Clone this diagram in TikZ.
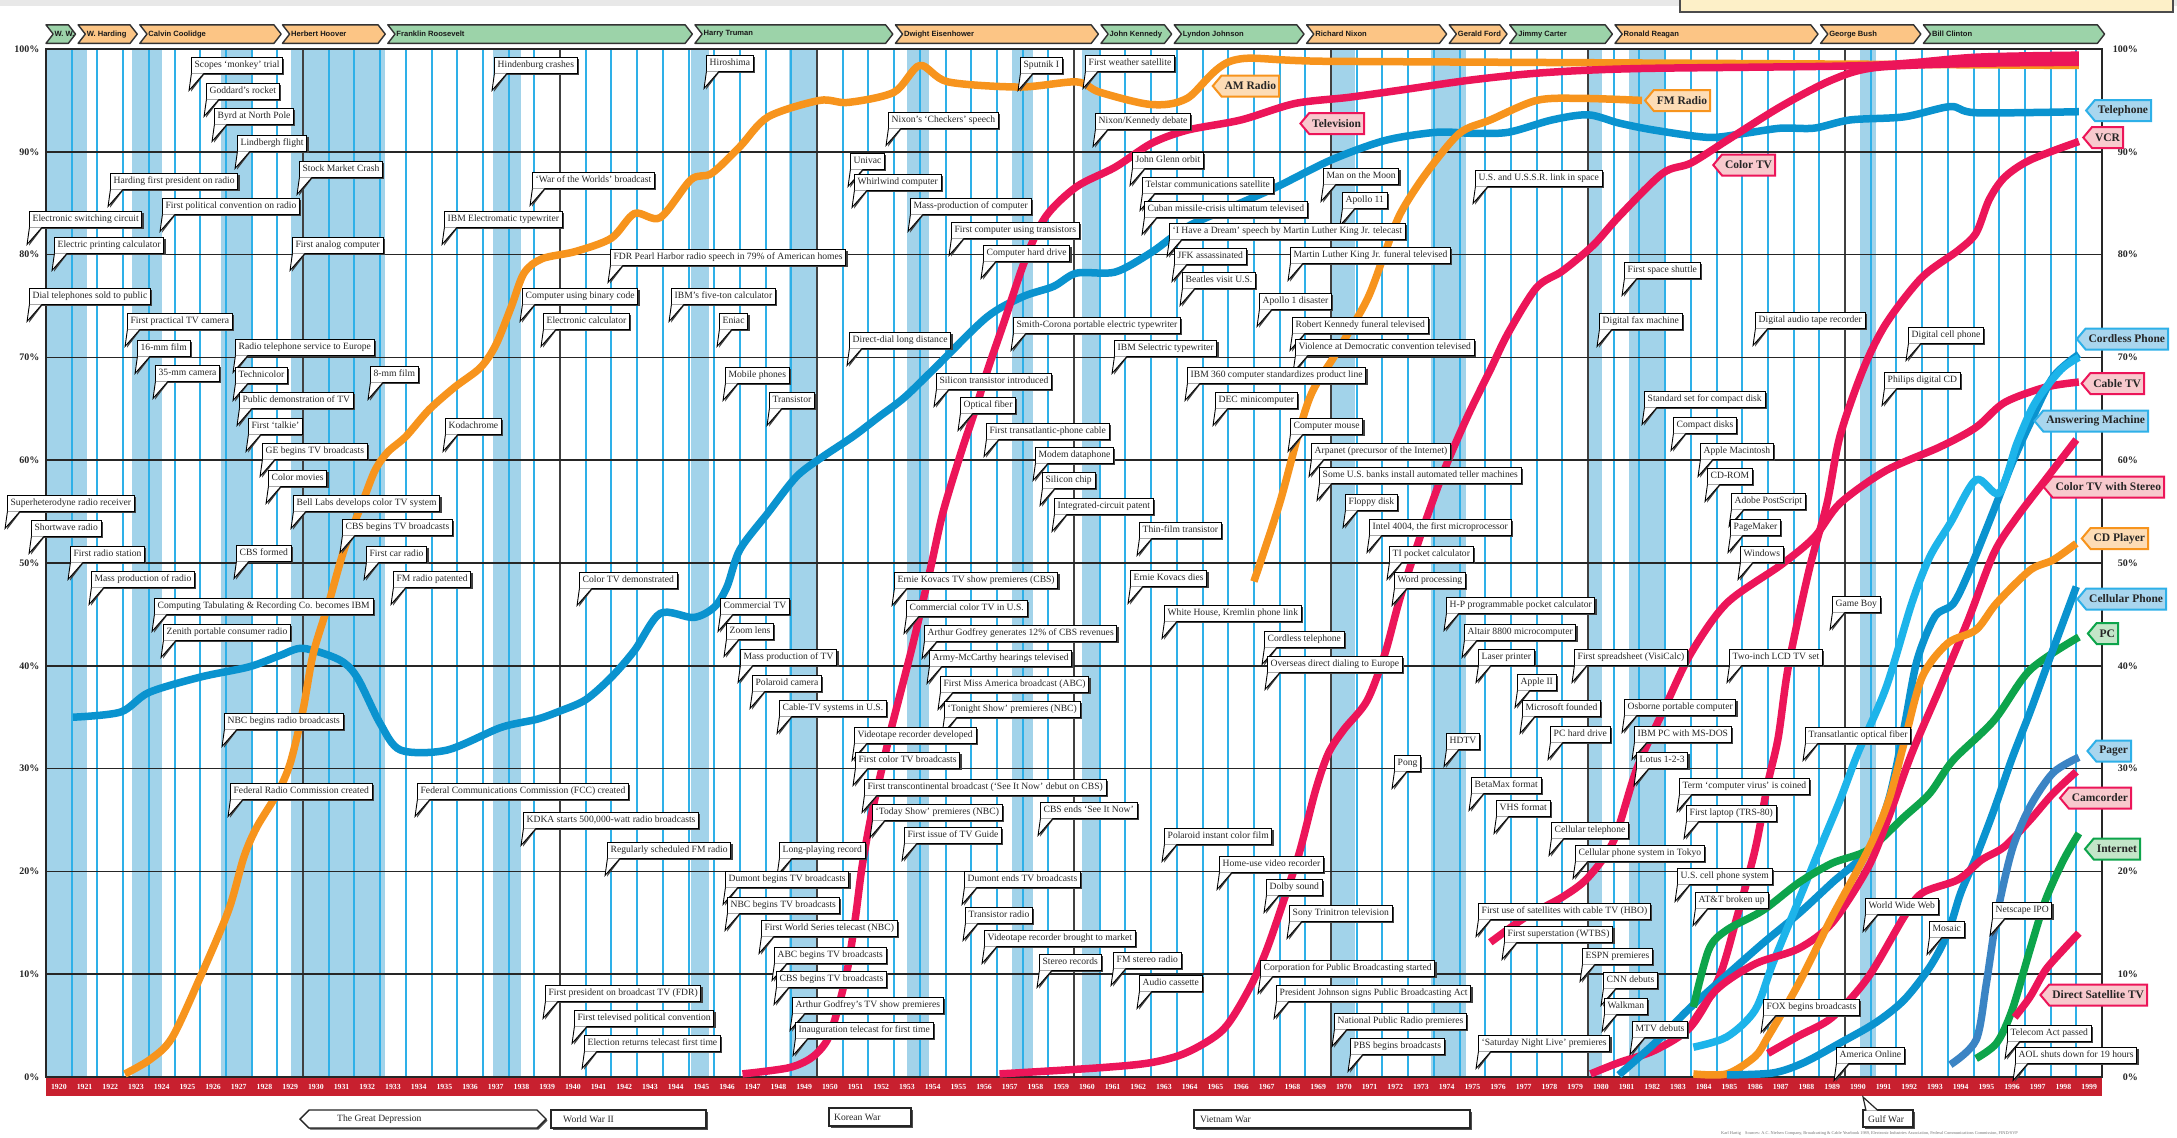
\documentclass[tikz,border=0pt]{standalone}
\usepackage{fontspec}
\setmainfont{Liberation Serif}
\newfontfamily\barfont{Liberation Sans}
\usetikzlibrary{shadows,shapes.symbols}

\definecolor{amorange}{HTML}{F7941D}
\definecolor{tvred}{HTML}{EC1559}
\definecolor{telblue}{HTML}{0A93CF}
\definecolor{ltblue}{HTML}{1DB4EA}
\definecolor{pagblue}{HTML}{3B84C4}
\definecolor{pcgreen}{HTML}{0DA44B}
\definecolor{recess}{HTML}{A2D3EA}
\definecolor{yearline}{HTML}{2EB0E8}
\definecolor{yearband}{HTML}{C8202F}
\definecolor{demgreen}{HTML}{9CD3A9}
\definecolor{reporange}{HTML}{FCC585}
\definecolor{tagorfill}{HTML}{FDDCB5}
\definecolor{tagredfill}{HTML}{F8C9CD}
\definecolor{tagbluefill}{HTML}{A9D6EE}
\definecolor{taggreenfill}{HTML}{C3E6C8}
\definecolor{cream}{HTML}{FDF0C8}

% event callout: top-left corner of the box, text
\newcounter{evn}
\newcommand\ev[3]{%
  \stepcounter{evn}%
  \node[evbox,anchor=north west] (ev\theevn) at (#1,#2) {#3};
  \fill[black!75] ([xshift=2.3pt,yshift=-1.2pt]ev\theevn.south west) -- ++(-2.2pt,-17pt) -- ++(13pt,17pt) -- cycle;
  \filldraw[fill=white,draw=black,line width=0.9pt,line join=miter]
     ([xshift=0.45pt]ev\theevn.south west) -- ++(-2.4pt,-17pt) -- ([xshift=13pt]ev\theevn.south west);
}
% presidential term bar (data coordinates): start year, end year, colour, node name, text
\newcommand\pres[5]{%
  \filldraw[fill=#3,draw=black!80,line width=1.4pt,line join=round]
    ({#1-1920},100.55) -- ({#2-1920-0.28},100.55) -- ({#2-1920},101.45) -- ({#2-1920-0.28},102.35)
    -- ({#1-1920},102.35) -- ({#1-1920+0.28},101.45) -- cycle;
  \node[presname,anchor=west] (#4) at ({#1-1920+0.33},101.45) {#5};
}

\begin{document}
\begin{tikzpicture}[x=1pt,y=-1pt,
  evbox/.style={draw=black,line width=0.9pt,fill=white,inner xsep=3.2pt,inner ysep=0pt,
     text height=7.6pt,text depth=2.4pt,minimum height=15.5pt,
     font=\fontsize{9.6}{10}\selectfont,text=black!85,
     drop shadow={shadow xshift=1.8pt,shadow yshift=-1.8pt,fill=black!75,opacity=1}},
  presname/.style={font=\barfont\bfseries\fontsize{7.6}{8}\selectfont,inner sep=0pt,text=black!90},
  tagbox/.style={shape=signal,signal to=west,signal pointer angle=100,line width=2pt,
     inner xsep=3pt,inner ysep=1pt,minimum height=21pt,
     font=\bfseries\fontsize{11.5}{12}\selectfont,text=black!85},
  orangetag/.style={tagbox,draw=amorange,fill=tagorfill},
  redtag/.style={tagbox,draw=tvred,fill=tagredfill},
  bluetag/.style={tagbox,draw=yearline,fill=tagbluefill},
  greentag/.style={tagbox,draw=pcgreen,fill=taggreenfill},
  yearlab/.style={font=\bfseries\fontsize{7.8}{8}\selectfont,text=white,inner sep=0pt},
  pctlab/.style={font=\bfseries\fontsize{10}{10}\selectfont,text=black!85,inner sep=0pt},
  warbox/.style={draw=black!85,line width=1.4pt,fill=white,
     drop shadow={shadow xshift=1.5pt,shadow yshift=-1.5pt,fill=black!70,opacity=1}},
  warlab/.style={font=\fontsize{9.6}{10}\selectfont,text=black!85,inner sep=0pt},
  curve/.style={line width=7.5pt,line cap=butt,line join=round}
]
\useasboundingbox (0,0) rectangle (2177,1138);
\fill[white] (0,0) rectangle (2177,1138);
\fill[black!9] (0,0) rectangle (2177,6);
\filldraw[fill=cream,draw=black!70,line width=1.2pt] (1680,-3) rectangle (2173,12);

% ---------- data frame: x = years after 1920, y = percent ----------
\begin{scope}[x=25.7pt,y=10.28pt,shift={(46pt,-1077pt)}]
  % presidential terms
  \pres{1920.0}{1921.15}{demgreen}{pWilson}{W. W.}
  \pres{1921.25}{1923.55}{reporange}{pHarding}{W. Harding}
  \pres{1923.65}{1929.15}{reporange}{pCoolidge}{Calvin Coolidge}
  \pres{1929.2}{1933.2}{reporange}{pHoover}{Herbert Hoover}
  \pres{1933.3}{1945.15}{demgreen}{pRoosevelt}{Franklin Roosevelt}
  \pres{1945.25}{1952.95}{demgreen}{pTruman}{Harry Truman}
  \pres{1953.05}{1960.95}{reporange}{pEisenhower}{Dwight Eisenhower}
  \pres{1961.05}{1963.8}{demgreen}{pKennedy}{John Kennedy}
  \pres{1963.9}{1968.95}{demgreen}{pJohnson}{Lyndon Johnson}
  \pres{1969.05}{1974.5}{reporange}{pNixon}{Richard Nixon}
  \pres{1974.6}{1976.85}{reporange}{pFord}{Gerald Ford}
  \pres{1976.95}{1980.95}{demgreen}{pCarter}{Jimmy Carter}
  \pres{1981.05}{1988.95}{reporange}{pReagan}{Ronald Reagan}
  \pres{1989.05}{1992.95}{reporange}{pBush}{George Bush}
  \pres{1993.05}{2000.1}{demgreen}{pClinton}{Bill Clinton}

  % plot background and recession bands
  \fill[white] (0,0) rectangle (80,100);
  \foreach \a/\b in {0/1.6,3.33/4.5,6.8/8.05,9.55/13.2,17.4/18.5,25.1/25.8,28.9/29.95,
                     33.5/34.35,37.6/38.4,40.3/41.05,49.95/50.95,53.9/55.25,60.0/60.55,61.6/63.05,70.6/71.2}
    \fill[recess] (\a,0) rectangle (\b,100);
  \foreach \i in {1,...,79} \draw[yearline,line width=2pt] (\i,0) -- (\i,100);
  \foreach \i in {10,20,...,70} \draw[black!75,line width=2.2pt] (\i,0) -- (\i,100);
  \foreach \p in {10,20,...,90} \draw[black!85,line width=1.6pt] (0,\p) -- (80,\p);
  \draw[black!85,line width=2pt] (0,0) rectangle (80,100);

  % year strip
  \fill[yearband] (0,-0.05) rectangle (80,-1.85);
  \foreach \i in {0,...,79} {
    \pgfmathtruncatemacro\yr{1920+\i}
    \node[yearlab] (yr\i) at (\i+0.5,-0.95) {\yr};
  }
  % percentage labels
  \foreach \p in {0,10,...,100} {
    \node[pctlab,anchor=east] (pl\p) at (-0.25,\p) {\p\%};
    \node[pctlab,anchor=east] (pr\p) at (81.4,\p) {\p\%};
  }

  % ---------- adoption curves ----------
  \draw[curve,telblue] plot[smooth,tension=0.5] coordinates {(1.05,35.0) (2.9,35.5) (4.0,37.4) (6.0,38.9) (7.9,39.9) (9.1,41.0) (10.0,41.7) (11.4,40.6) (12.1,38.9) (13.0,34.4) (13.8,31.8) (15.6,31.8) (17.7,34.0) (19.1,34.8) (20.0,35.6) (21.0,36.7) (22.0,38.9) (22.9,41.5) (23.9,45.1) (25.2,44.7) (26.0,45.7) (26.5,47.7) (27.0,51.3) (28.1,54.9) (29.2,58.4) (30.2,60.3) (31.4,62.3) (32.4,64.2) (33.4,66.1) (34.6,69.0) (36.6,73.9) (38.0,75.9) (39.2,76.9) (40.1,78.2) (41.6,78.3) (43.0,80.2) (44.4,82.7) (46.1,84.6) (47.9,86.6) (50.0,89.2) (52.1,91.1) (54.1,91.9) (55.5,91.8) (56.9,91.9) (58.6,93.1) (60.0,93.6) (61.2,92.8) (62.6,92.1) (64.7,91.4) (66.1,91.8) (67.5,92.3) (68.8,92.3) (70.2,93.1) (72.3,93.4) (74.1,94.4) (75.1,93.8) (79.1,93.9)};
  \draw[curve,amorange] plot[smooth,tension=0.5] coordinates {(3.07,0.3) (4.05,1.7) (4.9,3.8) (6.0,9.7) (7.1,16.2) (7.7,21.4) (8.2,24.3) (9.0,27.6) (9.5,30.5) (10.0,35.7) (10.4,41.2) (11.0,46.1) (11.6,51.3) (12.3,55.8) (12.8,59.0) (13.3,60.8) (14.0,62.3) (14.9,64.9) (15.9,67.1) (16.9,69.0) (17.5,71.2) (18.1,74.9) (18.6,78.2) (19.3,79.6) (20.6,80.3) (22.0,81.6) (22.9,84.0) (23.9,83.6) (25.1,87.3) (25.9,87.9) (27.0,90.5) (28.1,93.4) (30.1,95.0) (31.2,94.8) (33.0,95.8) (34.0,98.4) (35.1,96.8) (37.9,96.3) (40.1,96.8) (41.0,95.8) (43.0,94.6) (44.4,95.2) (46.2,98.9) (50,98.8) (65,98.6) (79.1,98.4)};
  \draw[curve,tvred] plot[smooth,tension=0.5] coordinates {(37.1,0.3) (41.0,0.9) (43.0,1.4) (44.4,2.4) (45.8,4.6) (46.8,8.5) (47.5,12.4) (48.3,18.2) (48.8,22.1) (49.4,27.9) (49.9,31.5) (50.5,33.8) (51.4,36.6) (52.1,41.2) (52.7,46.7) (53.6,53.5) (54.4,59.0) (55.3,64.2) (56.2,68.8) (56.9,72.4) (58.0,76.8) (59.0,78.4) (60.2,80.9) (61.2,83.7) (62.9,87.9) (64.0,88.9) (65.4,91.1) (67.5,94.4) (69.5,97.0) (71.2,98.2) (75,98.6) (79.1,98.7)};
  \draw[curve,tvred] plot[smooth,tension=0.5] coordinates {(27.1,0.3) (28.9,0.9) (29.8,1.9) (30.4,3.6) (30.8,6.5) (31.2,10.7) (31.5,15.6) (31.75,20.4) (32.1,25.3) (32.6,30.8) (32.9,34.0) (33.7,41.8) (34.4,49.3) (34.9,54.9) (35.6,60.7) (36.2,65.2) (36.6,68.5) (37.3,73.6) (38.1,79.5) (38.9,83.7) (40.1,86.6) (41.6,88.5) (43.0,90.8) (44.4,92.1) (46.5,93.1) (48.6,94.7) (50.7,95.3) (52.7,96.0) (55.5,97.0) (58.3,97.7) (62,98.1) (70.9,98.4) (75.1,99.2) (79.1,99.4)};
  \draw[curve,amorange] plot[smooth,tension=0.5] coordinates {(47.0,48.2) (48.0,55.8) (48.8,63.2) (49.3,66.8) (50.2,70.4) (51.4,75.6) (52.1,80.2) (52.7,84.0) (53.7,87.9) (55.0,91.8) (56.2,93.1) (58.0,95.0) (59.7,95.2) (62.1,95.0)};
  \draw[curve,tvred] plot[smooth,tension=0.5] coordinates {(56.2,13.1) (57.6,15.6) (59.0,17.5) (60.0,19.4) (61.0,23) (61.9,30) (63.0,36) (64.0,41.2) (65.4,46.1) (67.5,49.8) (68.8,52.5) (69.8,55.8) (71.6,59.0) (73.7,61.3) (75.1,63.2) (76.2,65.6) (77.8,67.1) (79.1,67.6)};
  \draw[curve,tvred] plot[smooth,tension=0.5] coordinates {(60.1,0.3) (61.2,1.4) (62.6,2.6) (64.0,4.9) (65.1,9.7) (65.8,15.6) (66.5,22.1) (67.0,28.6) (67.4,33) (67.8,40) (68.6,49.3) (69.3,55.8) (69.8,62.3) (70.7,68.8) (71.6,73.3) (73.0,77.8) (74.4,80.4) (75.1,82.1) (75.6,85.3) (76.2,87.5) (77.2,89.2) (79.1,91.0)};
  \draw[curve,telblue] plot[smooth,tension=0.5] coordinates {(61.2,0.2) (62.6,3.3) (64.0,6.8) (65.3,9.7) (66.8,13.0) (68.2,15.9) (69.5,18.9) (70.9,22.1) (71.7,27) (72.3,34) (72.8,40.5) (73.5,44.8) (74.2,46) (74.8,49) (75.8,55.2) (76.5,59.7) (77.2,63.6) (78.1,68.1) (79.1,70.3)};
  \draw[curve,ltblue] plot[smooth,tension=0.5] coordinates {(64.1,2.9) (65.4,3.9) (66.5,6.5) (67.2,11.1) (68.2,17.2) (69.0,22.1) (69.8,26.9) (70.5,31.5) (71.6,37.9) (72.6,46.1) (73.3,50.6) (74.1,53.9) (75.1,58.1) (76.0,56.8) (76.7,61.7) (77.4,65.6) (78.4,68.8) (79.1,70.0)};
  \draw[curve,pcgreen] plot[smooth,tension=0.5] coordinates {(64.1,6.8) (64.7,12.4) (65.4,14.3) (66.8,16.2) (68.2,18.9) (69.5,20.8) (70.9,22.1) (72.3,25.3) (73.3,27.6) (74.2,30.8) (75.8,34.7) (77.2,39.6) (79.1,42.8)};
  \draw[curve,tvred] plot[smooth,tension=0.5] coordinates {(64,5) (65,8.5) (66.5,11) (68.2,12.5) (69.5,15) (70.9,20.4) (71.7,25.3) (72.6,31.5) (73.7,37.9) (74.8,44.5) (75.8,51.0) (76.7,54.5) (77.8,58.1) (79.0,62.0)};
  \draw[curve,amorange] plot[smooth,tension=0.5] coordinates {(64.1,0.3) (65.4,0.3) (66.5,2.0) (67.0,3.9) (68.2,9.1) (69.5,15.6) (70.9,22.1) (71.7,26.9) (72.3,32.5) (73.0,38.9) (74.0,42.2) (75.1,43.5) (75.9,46.1) (77.2,49.3) (78.1,50.3) (79.0,51.9)};
  \draw[curve,telblue] plot[smooth,tension=0.5] coordinates {(65.4,0.2) (67.2,0.4) (68.4,1.4) (69.8,3.3) (71.2,5.3) (72.3,7.5) (73.3,10.7) (74.0,14.0) (74.5,17.9) (75.1,21.4) (75.8,26.0) (76.5,31.0) (77.2,35.5) (77.8,39.6) (79.0,47.7)};
  \draw[curve,tvred] plot[smooth,tension=0.5] coordinates {(67.0,2.3) (68.2,4.0) (69.5,5.8) (70.9,9.7) (72.3,15.6) (73.0,17.9) (74.4,19.2) (75.3,21.1) (76.2,22.4) (77.2,25.0) (78.1,27.6) (79.0,29.7)};
  \draw[curve,pagblue] plot[smooth,tension=0.5] coordinates {(74.1,1.2) (75.1,3.6) (75.5,9.1) (75.9,15.6) (76.5,22.1) (77.2,26.3) (78.1,29.6) (79.1,31.1)};
  \draw[curve,pcgreen] plot[smooth,tension=0.5] coordinates {(75.1,1.8) (75.9,3.3) (76.5,6.5) (77.2,12.4) (77.8,17.2) (78.5,21.1) (79.1,23.7)};
  \draw[curve,tvred] plot[smooth,tension=0.5] coordinates {(76.6,5.8) (77.2,7.8) (77.8,10.4) (78.5,12.4) (79.1,14.0)};
\end{scope}

% ---------- events ----------
\ev{191}{57}{Scopes `monkey' trial}
\ev{206}{83}{Goddard's rocket}
\ev{214}{108}{Byrd at North Pole}
\ev{237}{135}{Lindbergh flight}
\ev{299}{161}{Stock Market Crash}
\ev{110}{173}{Harding first president on radio}
\ev{162}{198}{First political convention on radio}
\ev{29}{211}{Electronic switching circuit}
\ev{444}{211}{IBM Electromatic typewriter}
\ev{54}{237}{Electric printing calculator}
\ev{292}{237}{First analog computer}
\ev{494}{57}{Hindenburg crashes}
\ev{532}{172}{`War of the Worlds' broadcast}
\ev{29}{288}{Dial telephones sold to public}
\ev{522}{288}{Computer using binary code}
\ev{543}{313}{Electronic calculator}
\ev{127}{313}{First practical TV camera}
\ev{137}{340}{16-mm film}
\ev{235}{339}{Radio telephone service to Europe}
\ev{155}{365}{35-mm camera}
\ev{235}{367}{Technicolor}
\ev{370}{366}{8-mm film}
\ev{239}{392}{Public demonstration of TV}
\ev{248}{418}{First `talkie'}
\ev{445}{418}{Kodachrome}
\ev{262}{443}{GE begins TV broadcasts}
\ev{268}{470}{Color movies}
\ev{7}{495}{Superheterodyne radio receiver}
\ev{293}{495}{Bell Labs develops color TV system}
\ev{31}{520}{Shortwave radio}
\ev{342}{519}{CBS begins TV broadcasts}
\ev{70}{546}{First radio station}
\ev{236}{545}{CBS formed}
\ev{366}{546}{First car radio}
\ev{91}{571}{Mass production of radio}
\ev{393}{571}{FM radio patented}
\ev{154}{598}{Computing Tabulating \& Recording Co. becomes IBM}
\ev{163}{624}{Zenith portable consumer radio}
\ev{224}{713}{NBC begins radio broadcasts}
\ev{230}{783}{Federal Radio Commission created}
\ev{417}{783}{Federal Communications Commission (FCC) created}
\ev{523}{812}{KDKA starts 500,000-watt radio broadcasts}
\ev{545}{985}{First president on broadcast TV (FDR)}
\ev{706}{55}{Hiroshima}
\ev{1020}{57}{Sputnik I}
\ev{1085}{55}{First weather satellite}
\ev{888}{112}{Nixon's `Checkers' speech}
\ev{850}{153}{Univac}
\ev{854}{174}{Whirlwind computer}
\ev{910}{198}{Mass-production of computer}
\ev{951}{222}{First computer using transistors}
\ev{610}{249}{FDR Pearl Harbor radio speech in 79\% of American homes}
\ev{983}{245}{Computer hard drive}
\ev{671}{288}{IBM's five-ton calculator}
\ev{719}{313}{Eniac}
\ev{1013}{317}{Smith-Corona portable electric typewriter}
\ev{849}{332}{Direct-dial long distance}
\ev{725}{367}{Mobile phones}
\ev{936}{373}{Silicon transistor introduced}
\ev{769}{392}{Transistor}
\ev{960}{397}{Optical fiber}
\ev{986}{423}{First transatlantic-phone cable}
\ev{1035}{447}{Modem dataphone}
\ev{1042}{472}{Silicon chip}
\ev{1054}{498}{Integrated-circuit patent}
\ev{579}{572}{Color TV demonstrated}
\ev{894}{572}{Ernie Kovacs TV show premieres (CBS)}
\ev{720}{598}{Commercial TV}
\ev{906}{600}{Commercial color TV in U.S.}
\ev{726}{623}{Zoom lens}
\ev{924}{625}{Arthur Godfrey generates 12\% of CBS revenues}
\ev{740}{649}{Mass production of TV}
\ev{929}{650}{Army-McCarthy hearings televised}
\ev{752}{675}{Polaroid camera}
\ev{940}{676}{First Miss America broadcast (ABC)}
\ev{779}{700}{Cable-TV systems in U.S.}
\ev{944}{701}{`Tonight Show' premieres (NBC)}
\ev{854}{727}{Videotape recorder developed}
\ev{855}{752}{First color TV broadcasts}
\ev{864}{779}{First transcontinental broadcast (`See It Now' debut on CBS)}
\ev{872}{804}{`Today Show' premieres (NBC)}
\ev{1040}{802}{CBS ends `See It Now'}
\ev{904}{827}{First issue of TV Guide}
\ev{607}{842}{Regularly scheduled FM radio}
\ev{779}{842}{Long-playing record}
\ev{725}{871}{Dumont begins TV broadcasts}
\ev{964}{871}{Dumont ends TV broadcasts}
\ev{727}{897}{NBC begins TV broadcasts}
\ev{965}{907}{Transistor radio}
\ev{761}{920}{First World Series telecast (NBC)}
\ev{984}{930}{Videotape recorder brought to market}
\ev{774}{947}{ABC begins TV broadcasts}
\ev{1039}{954}{Stereo records}
\ev{776}{971}{CBS begins TV broadcasts}
\ev{574}{1010}{First televised political convention}
\ev{792}{997}{Arthur Godfrey's TV show premieres}
\ev{584}{1035}{Election returns telecast first time}
\ev{795}{1022}{Inauguration telecast for first time}
\ev{1095}{113}{Nixon/Kennedy debate}
\ev{1132}{152}{John Glenn orbit}
\ev{1142}{177}{Telstar communications satellite}
\ev{1323}{168}{Man on the Moon}
\ev{1475}{170}{U.S. and U.S.S.R. link in space}
\ev{1342}{192}{Apollo 11}
\ev{1144}{201}{Cuban missile-crisis ultimatum televised}
\ev{1169}{223}{`I Have a Dream' speech by Martin Luther King Jr. telecast}
\ev{1174}{248}{JFK assassinated}
\ev{1290}{247}{Martin Luther King Jr. funeral televised}
\ev{1182}{272}{Beatles visit U.S.}
\ev{1259}{293}{Apollo 1 disaster}
\ev{1114}{340}{IBM Selectric typewriter}
\ev{1292}{317}{Robert Kennedy funeral televised}
\ev{1295}{339}{Violence at Democratic convention televised}
\ev{1187}{367}{IBM 360 computer standardizes product line}
\ev{1624}{262}{First space shuttle}
\ev{1599}{313}{Digital fax machine}
\ev{1215}{392}{DEC minicomputer}
\ev{1290}{418}{Computer mouse}
\ev{1311}{443}{Arpanet (precursor of the Internet)}
\ev{1319}{467}{Some U.S. banks install automated teller machines}
\ev{1345}{494}{Floppy disk}
\ev{1139}{522}{Thin-film transistor}
\ev{1369}{519}{Intel 4004, the first microprocessor}
\ev{1389}{546}{TI pocket calculator}
\ev{1130}{570}{Ernie Kovacs dies}
\ev{1394}{572}{Word processing}
\ev{1446}{597}{H-P programmable pocket calculator}
\ev{1164}{605}{White House, Kremlin phone link}
\ev{1464}{624}{Altair 8800 microcomputer}
\ev{1264}{631}{Cordless telephone}
\ev{1267}{656}{Overseas direct dialing to Europe}
\ev{1478}{649}{Laser printer}
\ev{1574}{649}{First spreadsheet (VisiCalc)}
\ev{1517}{674}{Apple II}
\ev{1522}{700}{Microsoft founded}
\ev{1624}{699}{Osborne portable computer}
\ev{1550}{726}{PC hard drive}
\ev{1446}{733}{HDTV}
\ev{1634}{726}{IBM PC with MS-DOS}
\ev{1394}{755}{Pong}
\ev{1636}{752}{Lotus 1-2-3}
\ev{1471}{777}{BetaMax format}
\ev{1496}{800}{VHS format}
\ev{1164}{828}{Polaroid instant color film}
\ev{1551}{822}{Cellular telephone}
\ev{1575}{845}{Cellular phone system in Tokyo}
\ev{1219}{856}{Home-use video recorder}
\ev{1266}{879}{Dolby sound}
\ev{1478}{903}{First use of satellites with cable TV (HBO)}
\ev{1289}{905}{Sony Trinitron television}
\ev{1504}{926}{First superstation (WTBS)}
\ev{1113}{952}{FM stereo radio}
\ev{1582}{948}{ESPN premieres}
\ev{1260}{960}{Corporation for Public Broadcasting started}
\ev{1139}{975}{Audio cassette}
\ev{1603}{972}{CNN debuts}
\ev{1276}{985}{President Johnson signs Public Broadcasting Act}
\ev{1604}{998}{Walkman}
\ev{1334}{1013}{National Public Radio premieres}
\ev{1478}{1035}{`Saturday Night Live' premieres}
\ev{1350}{1038}{PBS begins broadcasts}
\ev{1632}{1021}{MTV debuts}
\ev{1679}{778}{Term `computer virus' is coined}
\ev{1686}{805}{First laptop (TRS-80)}
\ev{1677}{868}{U.S. cell phone system}
\ev{1695}{892}{AT\&T broken up}
\ev{1865}{898}{World Wide Web}
\ev{1992}{902}{Netscape IPO}
\ev{1929}{921}{Mosaic}
\ev{1763}{999}{FOX begins broadcasts}
\ev{2007}{1025}{Telecom Act passed}
\ev{1836}{1047}{America Online}
\ev{2015}{1047}{AOL shuts down for 19 hours}
\ev{1755}{312}{Digital audio tape recorder}
\ev{1908}{327}{Digital cell phone}
\ev{1884}{372}{Philips digital CD}
\ev{1644}{391}{Standard set for compact disk}
\ev{1673}{417}{Compact disks}
\ev{1700}{443}{Apple Macintosh}
\ev{1707}{468}{CD-ROM}
\ev{1731}{493}{Adobe PostScript}
\ev{1730}{519}{PageMaker}
\ev{1740}{546}{Windows}
\ev{1832}{596}{Game Boy}
\ev{1729}{649}{Two-inch LCD TV set}
\ev{1805}{727}{Transatlantic optical fiber}

% ---------- series tags ----------
\node[orangetag,anchor=east] (tAM) at (1280,86) {AM Radio};
\node[redtag,anchor=east] (tTV) at (1365,123.5) {Television};
\node[orangetag,anchor=east] (tFM) at (1711,100.5) {FM Radio};
\node[bluetag,anchor=east] (tTel) at (2152,110.5) {Telephone};
\node[redtag,anchor=east] (tVCR) at (2124,137.5) {VCR};
\node[redtag,anchor=east] (tColor) at (1776,165) {Color TV};
\node[bluetag,anchor=east] (tCordless) at (2169,339) {Cordless Phone};
\node[redtag,anchor=east] (tCable) at (2145,383.5) {Cable TV};
\node[bluetag,anchor=east] (tAnswer) at (2149,421) {Answering Machine};
\node[redtag,anchor=east] (tStereo) at (2165,487) {Color TV with Stereo};
\node[orangetag,anchor=east] (tCD) at (2149,538.5) {CD Player};
\node[bluetag,anchor=east] (tCell) at (2167,599) {Cellular Phone};
\node[greentag,anchor=east] (tPC) at (2119,633.5) {PC};
\node[bluetag,anchor=east] (tPager) at (2132,751) {Pager};
\node[redtag,anchor=east] (tCam) at (2132,798) {Camcorder};
\node[greentag,anchor=east] (tNet) at (2141,849) {Internet};
\node[redtag,anchor=east] (tDSS) at (2148,995) {Direct Satellite TV};

% ---------- wars and hard times ----------
\filldraw[warbox] (300,1119) -- (309,1110) -- (537,1110) -- (546,1119) -- (537,1128) -- (309,1128) -- cycle;
\node[warlab,anchor=west] (wDep) at (337,1119) {The Great Depression};
\filldraw[warbox] (551,1110) rectangle (706,1128);
\node[warlab,anchor=west] (wWW2) at (563,1119) {World War II};
\filldraw[warbox] (829,1108) rectangle (911,1126);
\node[warlab,anchor=west] (wKorea) at (834,1117) {Korean War};
\filldraw[warbox] (1194,1110) rectangle (1470,1128);
\node[warlab,anchor=west] (wVietnam) at (1200,1119) {Vietnam War};
\filldraw[warbox] (1863,1110) rectangle (1913,1127);
\filldraw[fill=white,draw=black!85,line width=1.2pt] (1866,1110.6) -- (1863,1097) -- (1878,1110.6);
\node[warlab,anchor=west] (wGulf) at (1868,1119) {Gulf War};

\node[anchor=west,inner sep=0pt,text=black!55,font=\fontsize{4.3}{5}\selectfont] (credit) at (1721,1133)
  {Karl Hartig\quad Sources: A.C. Nielsen Company, Broadcasting \& Cable Yearbook 1989, Electronic Industries Association, Federal Communications Commission, FIND/SVP};
\end{tikzpicture}
\end{document}
